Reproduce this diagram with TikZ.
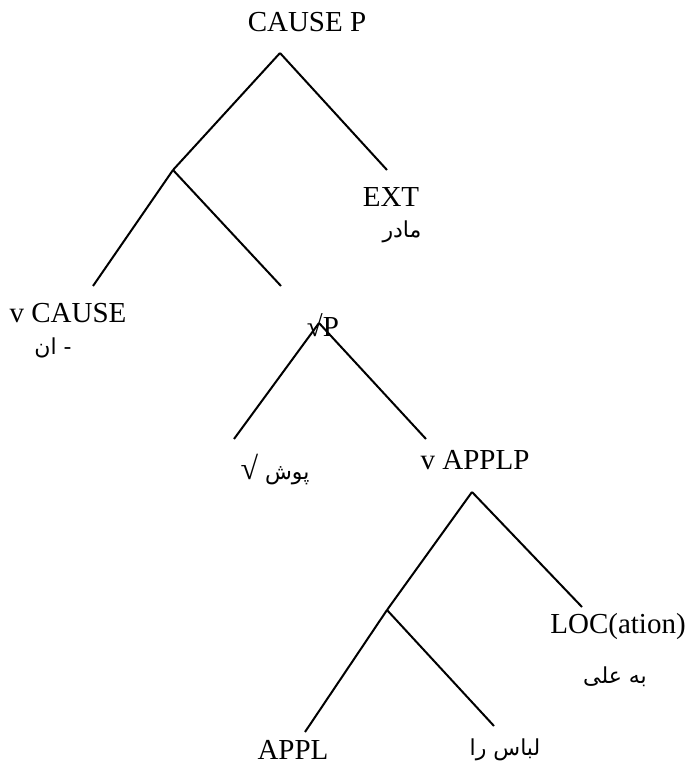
\documentclass[tikz,border=0pt]{standalone}
\usepackage{fontspec}
\setmainfont{Liberation Serif}
\newfontfamily\arabicfont[Script=Arabic]{DejaVu Sans}
\TeXXeTstate=1

\begin{document}
\begin{tikzpicture}[x=0.5pt,y=-0.5pt]
                \tikzset{lbl/.style={inner sep=0pt,font=\fontsize{14.5}{17}\selectfont},
                fa/.style={inner sep=0pt,font=\fontsize{11}{13}\arabicfont},
                branch/.style={line width=1pt}}
                \useasboundingbox (0,0) rectangle (694,769);

                \node[lbl] (causep) at (307,22) {CAUSE P};
                \node[lbl] (ext) at (391,197) {EXT};
                \node[fa] (extfa) at (402,232) {\beginR مادر\endR};
                \node[lbl] (vcause) at (68,313) {v CAUSE};
                \node[fa] (vcausefa) at (53,348) {\beginR - ان\endR};
                \node[lbl] (rootp) at (323,325) {√P};
                \node[fa] (push) at (275,470) {\beginR پوش {\rmfamily\fontsize{16}{18}\selectfont √}\endR};
                \node[lbl] (vapplp) at (475,460) {v APPLP};
                \node[lbl] (loc) at (618,627) {LOC(ation)};
                \node[fa] (locfa) at (615,677) {\beginR به علی\endR};
                \node[lbl] (appl) at (293,750) {APPL};
                \node[fa] (libas) at (505,750) {\beginR لباس را\endR};

                \coordinate (causetop) at (280,53);
                \coordinate (causemid) at (173,170);
                \coordinate (extend) at (387,170);
                \coordinate (vcauseend) at (93,286);
                \coordinate (rootend) at (281,286);
                \coordinate (rootapex) at (319,323);
                \coordinate (pushend) at (234,439);
                \coordinate (applpend) at (426,439);
                \coordinate (applptop) at (472,492);
                \coordinate (applpmid) at (387,610);
                \coordinate (locend) at (582,607);
                \coordinate (applend) at (305,732);
                \coordinate (libasend) at (494,726);

                \draw[branch] (causetop) -- (causemid);
                \draw[branch] (causetop) -- (extend);
                \draw[branch] (causemid) -- (vcauseend);
                \draw[branch] (causemid) -- (rootend);
                \draw[branch] (rootapex) -- (pushend);
                \draw[branch] (rootapex) -- (applpend);
                \draw[branch] (applptop) -- (applpmid);
                \draw[branch] (applptop) -- (locend);
                \draw[branch] (applpmid) -- (applend);
                \draw[branch] (applpmid) -- (libasend);
\end{tikzpicture}
\end{document}
